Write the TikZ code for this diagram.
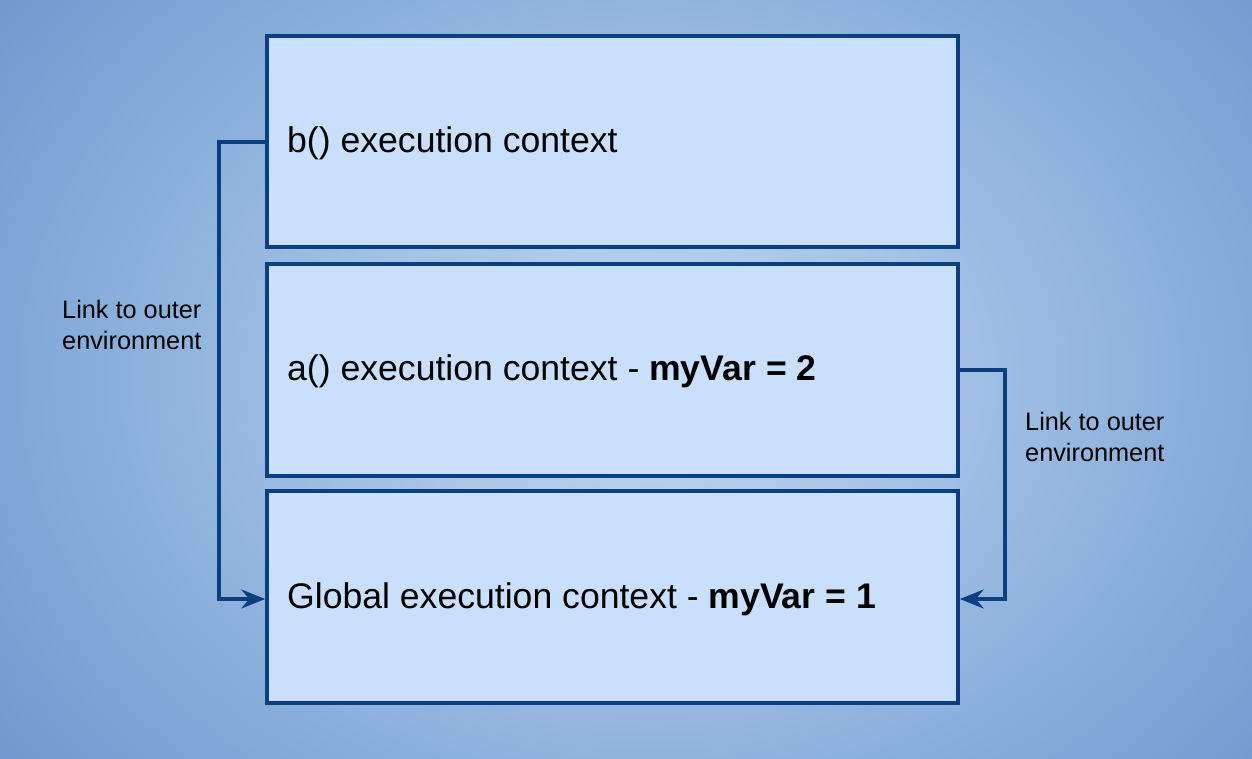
\documentclass[tikz,border=0pt]{standalone}
\usepackage{fontspec}
\setmainfont{Liberation Sans}
\usetikzlibrary{arrows.meta}
\definecolor{bgouter}{HTML}{6F9BD0}
\definecolor{bginner}{HTML}{C2D8F2}
\definecolor{boxfill}{HTML}{C9DFFB}
\definecolor{boxline}{HTML}{0B3F80}
\begin{document}
\begin{tikzpicture}[x=1pt,y=-1pt,
  ctxbox/.style={draw=boxline,fill=boxfill,line width=3.5pt,inner sep=0pt,minimum width=691pt},
  link/.style={draw=boxline,line width=3.5pt,-{Stealth[length=24pt,width=19pt,inset=8pt]}},
  bigtxt/.style={font=\fontsize{35.6}{42}\selectfont,anchor=west,inner sep=0pt},
  smalltxt/.style={font=\fontsize{25.3}{30.5}\selectfont,align=left,anchor=west,inner sep=0pt}]
\useasboundingbox (0,0) rectangle (1252,758);
\shade[inner color=bginner,outer color=bgouter] (-150,-250) rectangle (1450,1000);
\node (b) [ctxbox,minimum height=211pt] at (612.5,141.5) {};
\node (a) [ctxbox,minimum height=212pt] at (612.5,370) {};
\node (g) [ctxbox,minimum height=212pt] at (612.5,597) {};
\node (bt) [bigtxt] at (287,143) {b() execution context};
\node (at) [bigtxt] at (287,371) {a() execution context - \textbf{myVar = 2}};
\node (gt) [bigtxt] at (287,599) {Global execution context - \textbf{myVar = 1}};
\coordinate (l1) at (219,142);
\coordinate (l2) at (219,599);
\coordinate (r1) at (1005,370);
\coordinate (r2) at (1005,599);
\draw[link] (b.west |- l1) -- (l1) -- (l2) -- (g.west |- l2);
\draw[link] (a.east |- r1) -- (r1) -- (r2) -- (g.east |- r2);
\node (ll) [smalltxt] at (62,325) {Link to outer\\environment};
\node (rl) [smalltxt] at (1025,437) {Link to outer\\environment};
\end{tikzpicture}
\end{document}
